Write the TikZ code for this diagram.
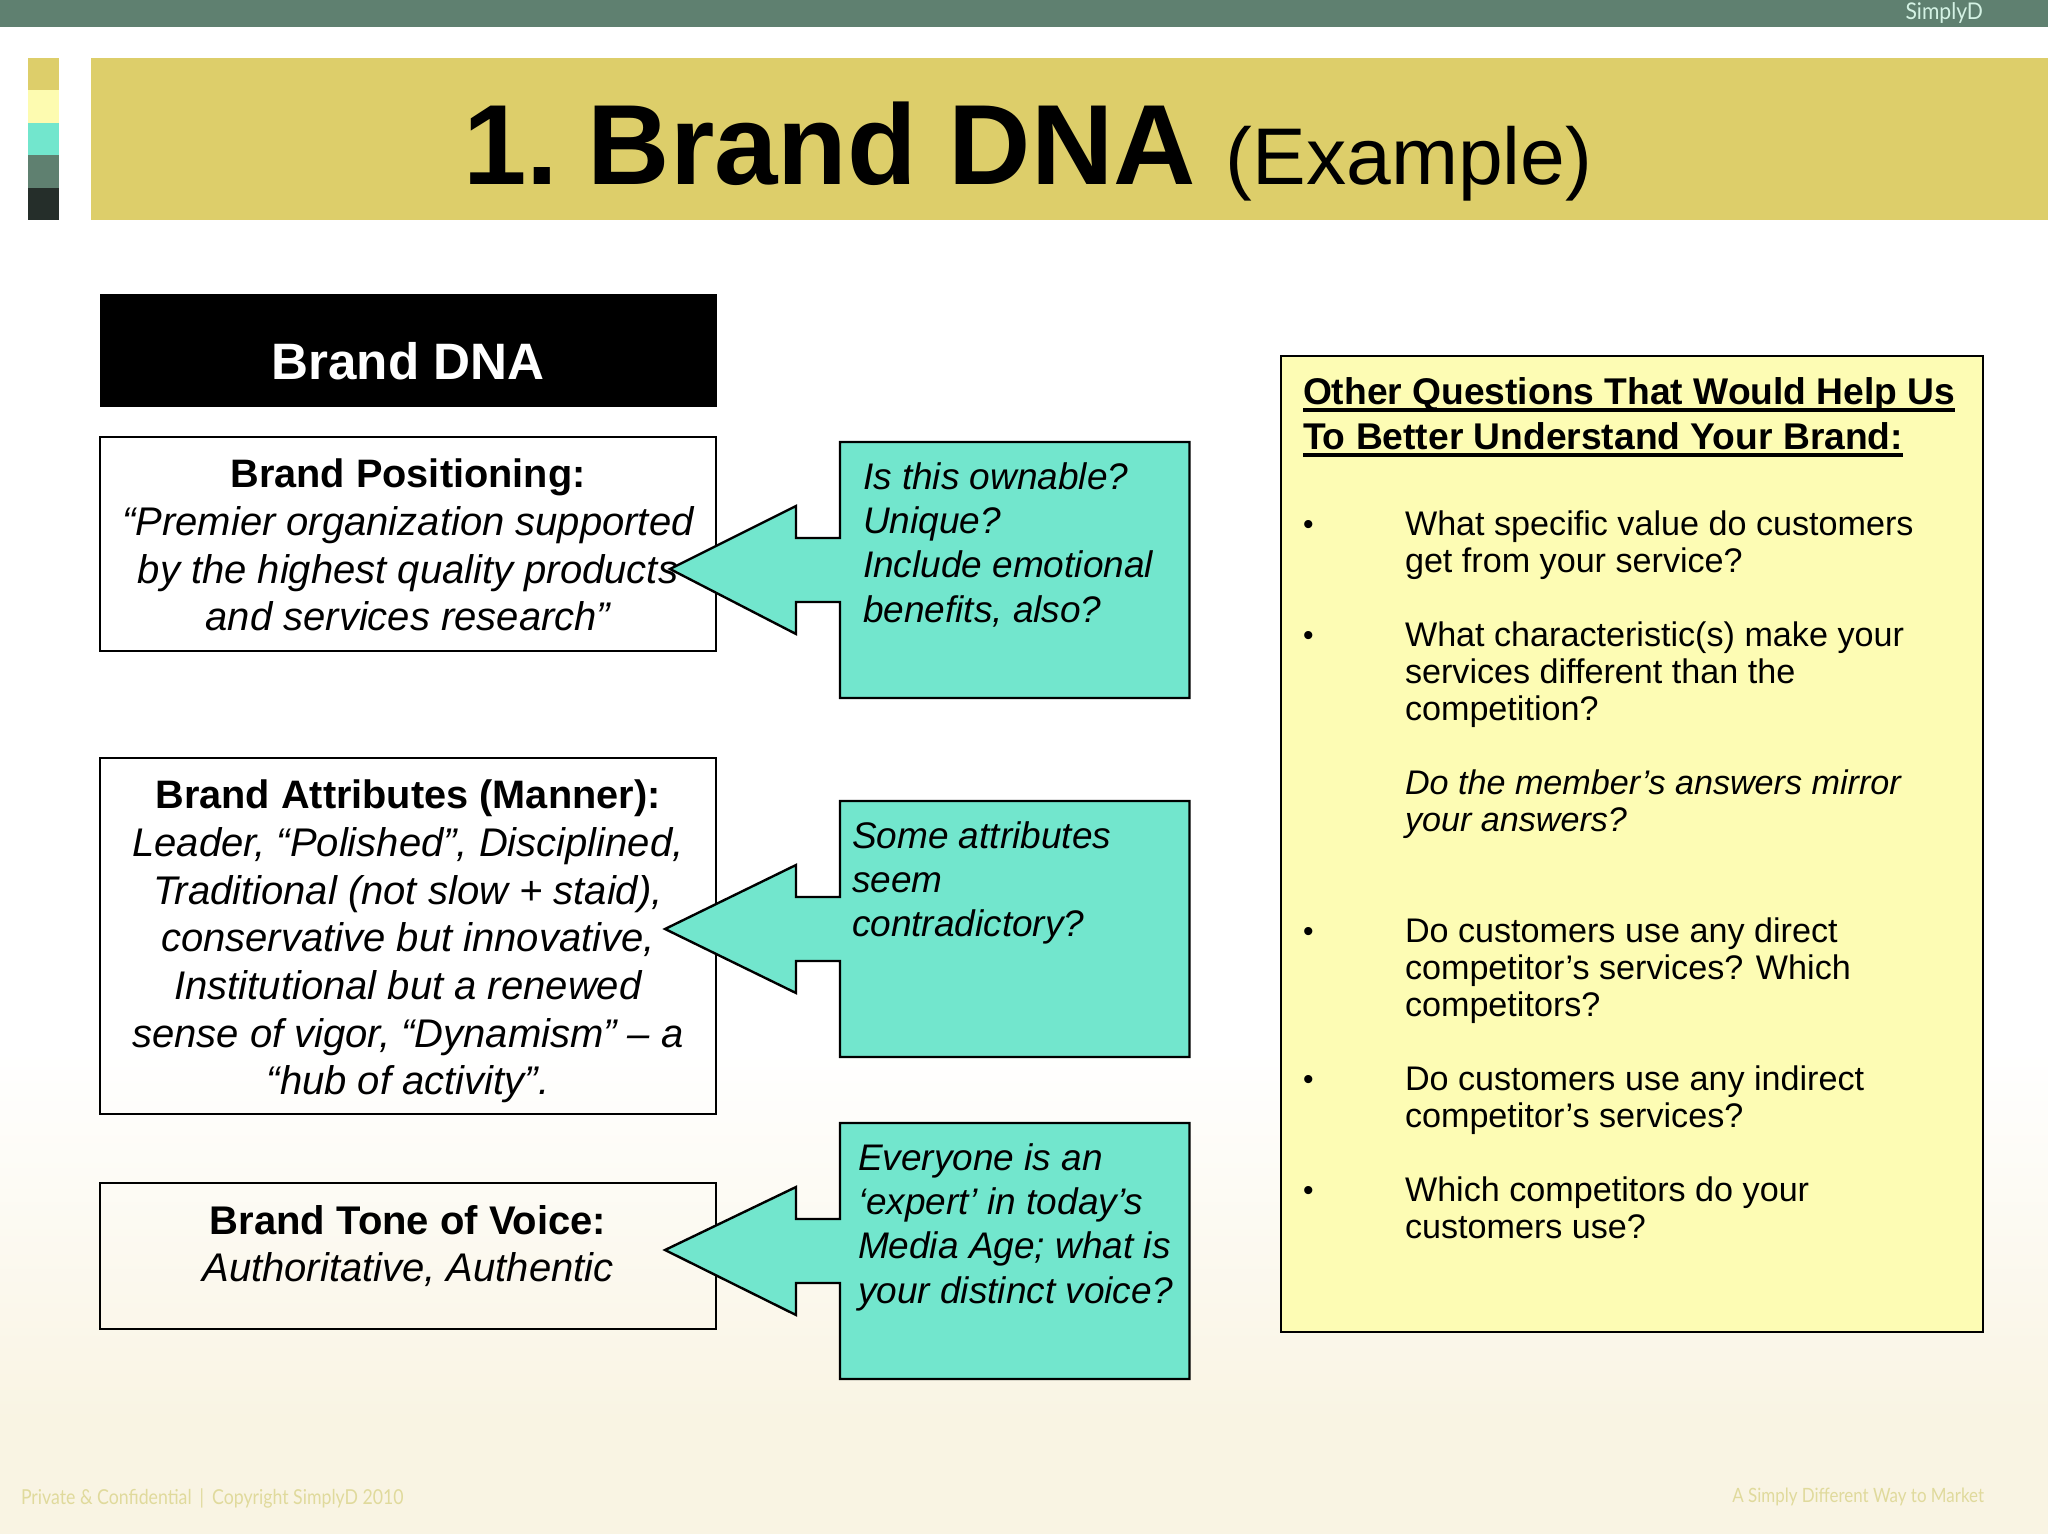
\documentclass[tikz,border=0pt]{standalone}
\usepackage{fontspec}
\setmainfont{Liberation Sans}
\newfontfamily\footfont[FakeStretch=0.86]{Lato}
\newfontfamily\topfont[FakeStretch=0.92]{Lato}
\definecolor{barcol}{HTML}{5F8070}
\definecolor{goldcol}{HTML}{DDCE6A}
\definecolor{palecol}{HTML}{FDFBB0}
\definecolor{tealcol}{HTML}{72E6CD}
\definecolor{darkcol}{HTML}{252E2A}
\definecolor{footcol}{HTML}{E0DA9C}
\definecolor{bottomcol}{HTML}{F9F4E3}
\definecolor{notecol}{HTML}{FDFCB4}
\definecolor{mintcol}{HTML}{D4F2E4}
\newcommand{\thickul}[1]{\setbox0\hbox{#1}\rlap{\rule[-3.7pt]{\wd0}{1.8pt}}\box0}
\newcommand{\lead}[1]{{\fontsize{19.85}{23.85}\selectfont\bfseries #1}}
\tikzset{
  every node/.style={outer sep=0pt},
  whitebox/.style={draw=black,line width=1.2pt,anchor=north west,inner sep=0pt,align=center,
    font=\fontsize{20}{23.85}\selectfont},
  callout/.style={draw=black,line width=1.2pt,fill=tealcol,line join=miter},
  tealtext/.style={anchor=north west,inner sep=0pt,align=left,font=\fontsize{18.5}{22.2}\selectfont\itshape},
  listtext/.style={anchor=north west,inner sep=0pt,align=left,font=\fontsize{17.07}{18.6}\selectfont},
  bullettext/.style={anchor=north west,inner sep=0pt,font=\fontsize{15}{18.6}\selectfont},
  swatch/.style={draw=none,anchor=north west,minimum width=15.5pt,minimum height=16.2pt,inner sep=0pt},
  foottext/.style={inner sep=0pt,text=footcol},
}
\begin{document}
\begin{tikzpicture}[x=0.5pt,y=-0.5pt]
\useasboundingbox (0,0) rectangle (2048,1534);
% page background
\fill[white] (0,0) rectangle (2048,1534);
\shade[top color=white,bottom color=bottomcol] (0,1050) rectangle (2048,1420);
\fill[bottomcol] (0,1420) rectangle (2048,1534);
% top bar
\node[draw=none,fill=barcol,anchor=north west,minimum width=1024pt,minimum height=13.5pt,inner sep=0pt] (bar) at (0,0) {};
\node[inner sep=0pt,text=mintcol,anchor=east,font=\topfont\fontsize{11.5}{13}\selectfont] (simply) at (1983,13) {SimplyD};
% swatches
\node[swatch,fill=goldcol] (s1) at (28,58) {};
\node[swatch,fill=palecol] (s2) at (28,90.5) {};
\node[swatch,fill=tealcol] (s3) at (28,123) {};
\node[swatch,fill=barcol] (s4) at (28,155.5) {};
\node[swatch,fill=darkcol] (s5) at (28,188) {};
% title band
\node[draw=none,fill=goldcol,anchor=north west,minimum width=978.5pt,minimum height=81pt,inner sep=0pt] (band) at (91,58) {};
\node[anchor=base west,inner sep=0pt] (title) at (463.5,185)
  {\fontsize{57}{60}\selectfont\bfseries 1. \hspace{-6.5pt}Brand DNA\hspace{15pt}\mdseries\fontsize{40.2}{44}\selectfont (Example)};
% left column
\node[draw=none,fill=black,anchor=north west,minimum width=308.5pt,minimum height=56.5pt,inner sep=0pt,text=white,
  font=\fontsize{25.6}{30}\selectfont\bfseries] (dna) at (99.5,294) {\rule{0pt}{29pt}Brand DNA};
\node[whitebox,minimum width=308pt,minimum height=107pt] (pos) at (100,437)
  {\rule{0pt}{15.5pt}\lead{Brand Positioning:}\\ \itshape “Premier organization supported\\ \itshape by the highest quality products\\ \itshape and services research”};
\node[whitebox,minimum width=308pt,minimum height=178pt] (attr) at (100,758)
  {\rule{0pt}{20pt}\lead{Brand Attributes (Manner):}\\ \itshape Leader, “Polished”, Disciplined,\\ \itshape Traditional (not slow + staid),\\ \itshape conservative but innovative,\\ \itshape Institutional but a renewed\\ \itshape sense of vigor, “Dynamism” – a\\ \itshape “hub of activity”.};
\node[whitebox,minimum width=308pt,minimum height=73pt] (tone) at (100,1183)
  {{\bfseries Brand Tone of Voice:}\\ \itshape Authoritative, Authentic\rule[-12.5pt]{0pt}{0pt}};
% callouts
\draw[callout] (840,442) -- (1189.5,442) -- (1189.5,698) -- (840,698) -- (840,602) -- (796,602) -- (796,634) -- (670,569) -- (796,506) -- (796,538) -- (840,538) -- cycle;
\draw[callout] (840,801) -- (1189.5,801) -- (1189.5,1057) -- (840,1057) -- (840,961) -- (796,961) -- (796,993) -- (665,929) -- (796,865) -- (796,897) -- (840,897) -- cycle;
\draw[callout] (840,1123) -- (1189.5,1123) -- (1189.5,1379) -- (840,1379) -- (840,1283) -- (796,1283) -- (796,1315) -- (665,1250) -- (796,1187) -- (796,1219) -- (840,1219) -- cycle;
\node[tealtext] (q1) at (863,458) {\strut Is this ownable?\\Unique?\\Include emotional\\benefits, also?};
\node[tealtext] (q2) at (852,817) {\strut Some attributes\\seem\\contradictory?};
\node[tealtext] (q3) at (858,1139) {\strut Everyone is an\\‘expert’ in today’s\\Media Age; what is\\your distinct voice?};
% right box
\node[draw=black,line width=1.2pt,fill=notecol,anchor=north west,minimum width=351pt,minimum height=488pt,inner sep=0pt] (note) at (1281,356) {};
\node[anchor=north west,inner sep=0pt,align=left,font=\fontsize{18.6}{22.5}\selectfont\bfseries] (head) at (1303,373)
  {\strut\thickul{Other Questions That Would Help Us}\\\thickul{To Better Understand Your Brand:}};
\node[bullettext] (b1) at (1303,508) {\strut•};
\node[listtext] (t1) at (1405,509) {\strut What specific value do customers\\get from your service?};
\node[bullettext] (b2) at (1303,619) {\strut•};
\node[listtext] (t2) at (1405,620) {\strut What characteristic(s) make your\\services different than the\\competition?};
\node[listtext,font=\fontsize{17.07}{18.6}\selectfont\itshape] (t3) at (1405,768) {\strut Do the member’s answers mirror\\your answers?};
\node[bullettext] (b3) at (1303,915) {\strut•};
\node[listtext] (t4) at (1405,916) {\strut Do customers use any direct\\competitor’s services? Which\\competitors?};
\node[bullettext] (b4) at (1303,1063) {\strut•};
\node[listtext] (t5) at (1405,1064) {\strut Do customers use any indirect\\competitor’s services?};
\node[bullettext] (b5) at (1303,1174) {\strut•};
\node[listtext] (t6) at (1405,1175) {\strut Which competitors do your\\customers use?};
% footers
\node[foottext,anchor=west,font=\footfont\fontsize{10.3}{12}\selectfont] (f1) at (21,1498) {Private \& Confidential \,|\, Copyright SimplyD 2010};
\node[foottext,anchor=east,font=\footfont\fontsize{9.85}{12}\selectfont] (f2) at (1984,1497) {A Simply Different Way to Market};
\end{tikzpicture}
\end{document}
